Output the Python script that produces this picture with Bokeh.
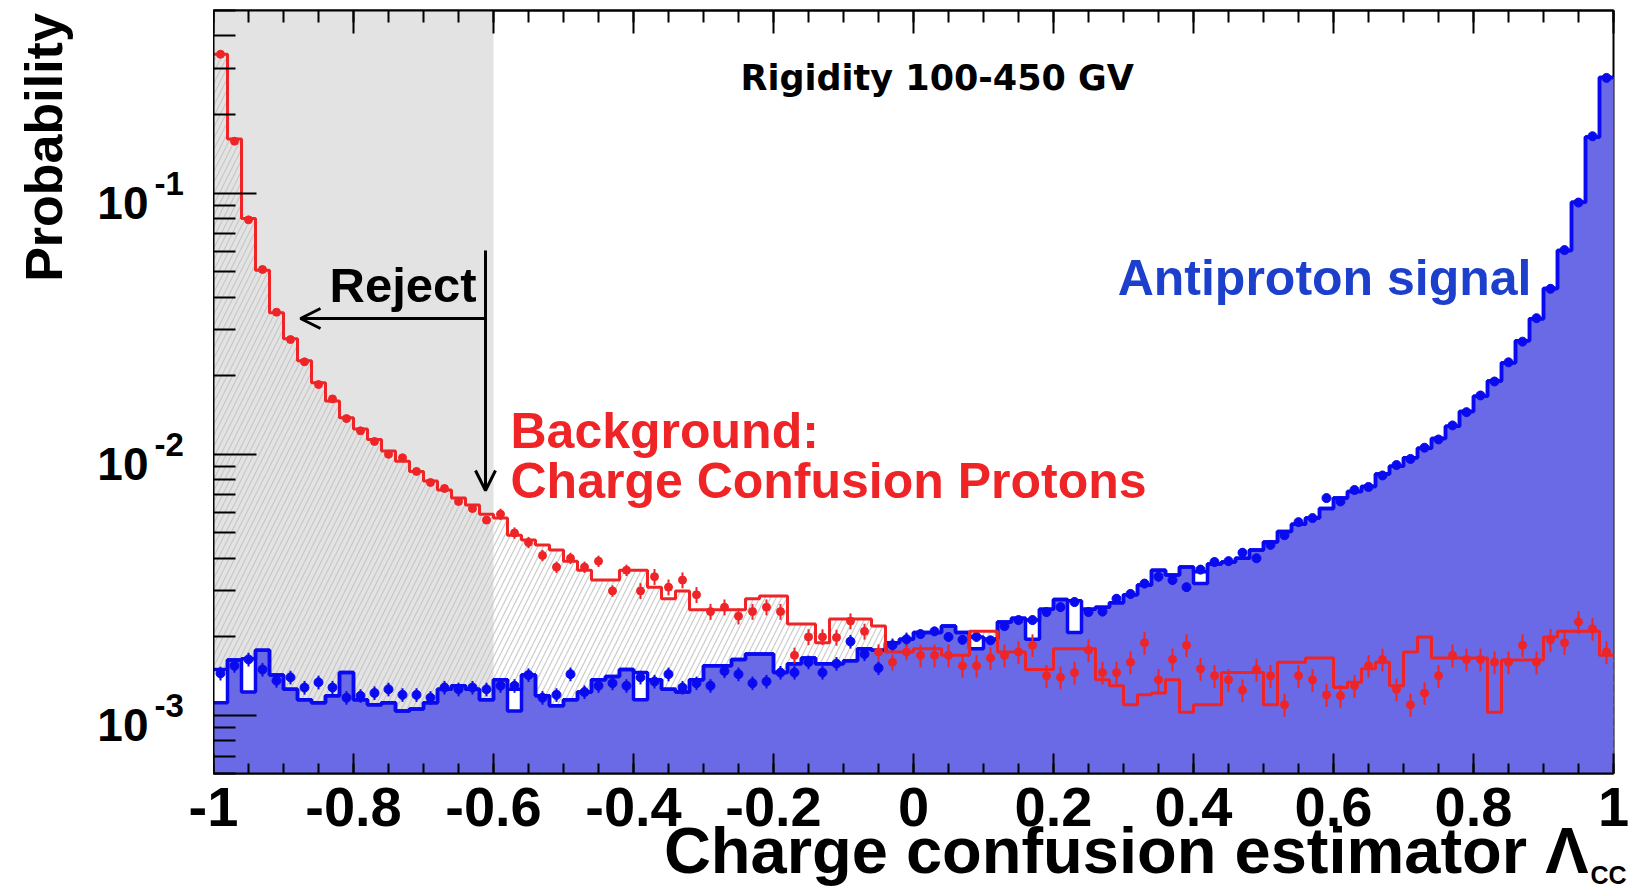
from math import pi
import numpy as np
from bokeh.plotting import figure
from bokeh.layouts import row, column
from bokeh.models import (Range1d, FixedTicker, CustomJSTickFormatter, LinearAxis,
                          Arrow, OpenHead, BoxAnnotation)
from bokeh.core.properties import value
from bokeh.embed import file_html
from bokeh.resources import INLINE

# ---------------- data (100 bins of width 0.02 over [-1, 1]) ----------------
x_lo, x_hi, n_bins = -1.0, 1.0, 100
y_lo, y_hi = 6e-4, 0.5

red_mc = [0.34, 0.161, 0.080, 0.0506, 0.0348, 0.0277, 0.0228, 0.0188, 0.0160, 0.0138,
          0.0125, 0.0114, 0.0103, 0.0094, 0.0086, 0.0079, 0.0073, 0.0068, 0.0064, 0.0059,
          0.0057, 0.0049, 0.0047, 0.0045, 0.0043, 0.0039, 0.0036, 0.0033, 0.0033, 0.0036,
          0.0036, 0.0031, 0.0028, 0.0030, 0.00254, 0.00254, 0.00254, 0.00254, 0.0028, 0.00287,
          0.00287, 0.00224, 0.00224, 0.0019, 0.00234, 0.00234, 0.00234, 0.0022, 0.00175, 0.00175,
          0.0018, 0.0018, 0.0017, 0.0017, 0.0021, 0.0021, 0.00175, 0.00175, 0.0015, 0.0015,
          0.0018, 0.0018, 0.0018, 0.00137, 0.0013, 0.0011, 0.0012, 0.00122, 0.00137, 0.00103,
          0.0011, 0.0011, 0.00146, 0.00146, 0.00146, 0.0011, 0.0016, 0.0016, 0.00166, 0.00166,
          0.00128, 0.00134, 0.00151, 0.0016, 0.0013, 0.00175, 0.0020, 0.00166, 0.00166, 0.00166,
          0.00166, 0.00103, 0.00163, 0.00163, 0.00163, 0.0020, 0.0021, 0.0021, 0.0021, 0.0017]

red_data = [0.34, 0.158, 0.079, 0.051, 0.035, 0.0275, 0.0226, 0.0185, 0.0163, 0.0137,
            0.0123, 0.0112, 0.0100, 0.0097, 0.0086, 0.0078, 0.0074, 0.0066, 0.0062, 0.0056,
            0.0059, 0.0050, 0.0046, 0.0041, 0.0037, 0.0040, 0.0037, 0.0039, 0.0030, 0.0036,
            0.0030, 0.0034, 0.0031, 0.0033, 0.0029, 0.0025, 0.0026, 0.0024, 0.0025, 0.0026,
            0.0025, 0.0017, 0.0020, 0.0020, 0.00199, 0.0023, 0.0021, 0.00175, 0.0016, 0.00175,
            0.0017, 0.0017, 0.0017, 0.00155, 0.00155, 0.00166, 0.0017, 0.00175, 0.00186, 0.00142,
            0.0014, 0.00146, 0.00178, 0.00146, 0.00146, 0.0016, 0.0019, 0.00137, 0.00164, 0.00186,
            0.00151, 0.00142, 0.00137, 0.00125, 0.0015, 0.00142, 0.0011, 0.00142, 0.00137, 0.0012,
            0.00119, 0.0013, 0.00155, 0.00164, 0.00126, 0.0011, 0.00122, 0.00142, 0.0017, 0.00164,
            0.00164, 0.0016, 0.0016, 0.00186, 0.0016, 0.00195, 0.0019, 0.00228, 0.00215, 0.00175]

# blue outline histogram (line, white underneath)
blue_line = [0.0015, 0.00163, 0.00165, 0.00178, 0.00143, 0.00126, 0.00115, 0.00112, 0.00119, 0.00146,
             0.00115, 0.0011, 0.00112, 0.00104, 0.00106, 0.00112, 0.00126, 0.0013, 0.00126, 0.00115,
             0.00137, 0.00126, 0.00143, 0.00119, 0.00109, 0.00115, 0.00123, 0.00137, 0.00141, 0.0015,
             0.00146, 0.00137, 0.00126, 0.00123, 0.00137, 0.00155, 0.00155, 0.00164, 0.00172, 0.00172,
             0.00146, 0.00158, 0.00166, 0.00158, 0.00158, 0.00162, 0.0018, 0.00178, 0.0019, 0.00196,
             0.00208, 0.00208, 0.0022, 0.00208, 0.0020, 0.00196, 0.00228, 0.00236, 0.00232, 0.00255,
             0.00278, 0.00275, 0.00255, 0.0026, 0.0027, 0.0029, 0.00316, 0.0036, 0.00345, 0.0037,
             0.00355, 0.0038, 0.00387, 0.0040, 0.0043, 0.00462, 0.00506, 0.0054, 0.0057, 0.0062,
             0.0068, 0.0072, 0.00753, 0.0084, 0.0090, 0.0097, 0.01054, 0.0115, 0.0128, 0.0146,
             0.0167, 0.0191, 0.0224, 0.0272, 0.033, 0.0431, 0.0603, 0.0923, 0.164, 0.277]

# blue filled histogram (pattern fill)
blue_fill = [0.00112, 0.00163, 0.00123, 0.00178, 0.00143, 0.00126, 0.00115, 0.00112, 0.00119, 0.00146,
             0.00115, 0.0011, 0.00112, 0.00104, 0.00106, 0.00112, 0.00126, 0.0013, 0.00126, 0.00115,
             0.00137, 0.00104, 0.00143, 0.00119, 0.00109, 0.00115, 0.00123, 0.00137, 0.00141, 0.0015,
             0.00115, 0.00137, 0.00126, 0.00123, 0.00137, 0.00155, 0.00155, 0.00164, 0.00172, 0.00172,
             0.00146, 0.00158, 0.00166, 0.00158, 0.00158, 0.00162, 0.0018, 0.00178, 0.0019, 0.00196,
             0.00208, 0.00208, 0.0022, 0.00208, 0.0018, 0.00196, 0.00228, 0.00236, 0.00196, 0.00255,
             0.00278, 0.00208, 0.00255, 0.0026, 0.0027, 0.0029, 0.00316, 0.0036, 0.00345, 0.0037,
             0.0032, 0.0038, 0.00387, 0.0040, 0.0043, 0.00462, 0.00506, 0.0054, 0.0057, 0.0062,
             0.0068, 0.0072, 0.00753, 0.0084, 0.0090, 0.0097, 0.01054, 0.0115, 0.0128, 0.0146,
             0.0167, 0.0191, 0.0224, 0.0272, 0.033, 0.0431, 0.0603, 0.0923, 0.164, 0.277]

blue_data = [0.00145, 0.00155, 0.00164, 0.0015, 0.00136, 0.0014, 0.00128, 0.00134, 0.00128, 0.00117,
             0.00119, 0.00122, 0.00126, 0.0012, 0.0012, 0.00117, 0.00128, 0.00126, 0.00128, 0.00126,
             0.0013, 0.0013, 0.00143, 0.00117, 0.0012, 0.00144, 0.00123, 0.0013, 0.00133, 0.0013,
             0.0014, 0.00135, 0.00144, 0.00128, 0.00133, 0.0013, 0.00148, 0.00144, 0.00133, 0.00135,
             0.00146, 0.00146, 0.0016, 0.00146, 0.00158, 0.00192, 0.00172, 0.00152, 0.00186, 0.00196,
             0.00205, 0.0021, 0.0020, 0.00195, 0.0020, 0.00194, 0.0022, 0.00232, 0.00232, 0.00249,
             0.0026, 0.00272, 0.00249, 0.0025, 0.0028, 0.00292, 0.0032, 0.0034, 0.0033, 0.0031,
             0.00362, 0.00387, 0.0039, 0.0042, 0.0040, 0.0045, 0.0049, 0.0055, 0.0057, 0.0068,
             0.0066, 0.0073, 0.0075, 0.0083, 0.0091, 0.0096, 0.0106, 0.0114, 0.0129, 0.0145,
             0.0168, 0.019, 0.0225, 0.027, 0.0332, 0.043, 0.0605, 0.092, 0.165, 0.276]

# relative error-bar half sizes
red_err_rel = [0.02] * 20 + [0.05] * 10 + [0.07] * 20 + [0.10] * 50
blue_err_rel = [0.06] * 50 + [0.04] * 25 + [0.02] * 25

x_major = [-1.0, -0.8, -0.6, -0.4, -0.2, 0.0, 0.2, 0.4, 0.6, 0.8, 1.0]
x_major_labels = ["-1", "-0.8", "-0.6", "-0.4", "-0.2", "0", "0.2", "0.4", "0.6", "0.8", "1"]
y_major = [1e-3, 1e-2, 1e-1]
y_major_sup = ["-3", "-2", "-1"]

cut_value = -0.6  # reject region edge
# ---------------------------------------------------------------------------

# pixel layout of the page
W, H = 1633, 893
FRAME_L, FRAME_R, FRAME_T, FRAME_B = 213, 1613, 10, 773
MAIN_H = FRAME_B + 2
BOT_H = H - MAIN_H
px_per_x = (FRAME_R - FRAME_L) / (x_hi - x_lo)
px_per_dec = (FRAME_B - FRAME_T) / (np.log10(y_hi) - np.log10(y_lo))
BL = 0.35  # baseline correction of svg text (fraction of font size)

edges = np.linspace(x_lo, x_hi, n_bins + 1)
centers = 0.5 * (edges[:-1] + edges[1:])


def ext(v):
    return list(v) + [v[-1]]


def y_shift(v, px):
    """data value moved px pixels downward on the log axis"""
    return v * 10 ** (-px / px_per_dec)


def to_x(px):
    return x_lo + (px - FRAME_L) / px_per_x


def to_y(py):
    return 10 ** (np.log10(y_hi) - (py - FRAME_T) / px_per_dec)


RED = "#ee2426"
BLUE = "#0a0af0"
BLUE_FILL = "#6a6ae6"
FONT = "Liberation Sans"
y_floor = 1e-5

yr = Range1d(y_lo, y_hi)

# ======================= main plot =======================
p = figure(width=W - FRAME_L, height=MAIN_H, x_range=Range1d(x_lo, x_hi), y_range=yr,
           y_axis_type="log", output_backend="svg", toolbar_location=None,
           min_border_left=0, min_border_right=W - FRAME_R, min_border_top=FRAME_T,
           min_border_bottom=MAIN_H - FRAME_B,
           background_fill_color="white", border_fill_color="white",
           outline_line_color="black", outline_line_width=2)
p.grid.visible = False

p.add_layout(BoxAnnotation(left=x_lo, right=cut_value, fill_color="#e3e3e3", fill_alpha=1.0,
                           line_color=None, level="underlay"))

ex = list(edges)
floor = [y_floor] * (n_bins + 1)

p.varea_step(x=ex, y1=floor, y2=ext(red_mc), step_mode="after", fill_color=None,
             hatch_pattern="/", hatch_color="#c2c2c2", hatch_alpha=0.85, hatch_scale=11,
             hatch_weight=1.2)

p.varea_step(x=ex, y1=floor, y2=ext(blue_line), step_mode="after", fill_color="white")
p.varea_step(x=ex, y1=floor, y2=ext(blue_fill), step_mode="after", fill_color=BLUE_FILL)
p.step(x=ex, y=ext(blue_fill), mode="after", line_color=BLUE, line_width=3.5)
p.step(x=ex, y=ext(blue_line), mode="after", line_color=BLUE, line_width=3.5)

bd = np.array(blue_data)
be = np.array(blue_err_rel)
p.segment(x0=centers, y0=bd * (1 - be), x1=centers, y1=bd * (1 + be), line_color=BLUE, line_width=2)
p.scatter(x=centers, y=bd, size=9, marker="circle", fill_color=BLUE, line_color=BLUE)

p.step(x=ex, y=ext(red_mc), mode="after", line_color=RED, line_width=3)
rd = np.array(red_data)
re = np.array(red_err_rel)
p.segment(x0=centers, y0=rd * (1 - re), x1=centers, y1=rd * (1 + re), line_color=RED, line_width=2)
p.scatter(x=centers, y=rd, size=8, marker="circle", fill_color=RED, line_color=RED)

# axes (ticks inside, labels drawn in the side panels)
x_minor = [round(x_lo + 0.05 * i, 2) for i in range(41)]
xt = FixedTicker(ticks=x_major, minor_ticks=x_minor)
p.xaxis.ticker = xt
p.xaxis.formatter = CustomJSTickFormatter(code="return '';")
p.xaxis.major_label_text_font_size = "0px"
p.xaxis.major_label_standoff = 0
p.xaxis.major_tick_in = 20
p.xaxis.major_tick_out = 0
p.xaxis.minor_tick_in = 10
p.xaxis.minor_tick_out = 0
p.xaxis.axis_line_width = 2
p.xaxis.major_tick_line_width = 2
p.xaxis.minor_tick_line_width = 2

top_axis = LinearAxis(ticker=xt, formatter=CustomJSTickFormatter(code="return '';"),
                      major_tick_in=23, major_tick_out=0, minor_tick_in=12, minor_tick_out=0,
                      axis_line_width=2, major_tick_line_width=2, minor_tick_line_width=2,
                      major_label_text_font_size="0px", major_label_standoff=0)
p.add_layout(top_axis, "above")

y_minor = [k * 10.0 ** e for e in (-4, -3, -2, -1) for k in range(2, 10)]
p.yaxis.ticker = FixedTicker(ticks=y_major, minor_ticks=y_minor)
p.yaxis.formatter = CustomJSTickFormatter(code="return '';")
p.yaxis.major_label_text_font_size = "0px"
p.yaxis.major_label_standoff = 0
p.yaxis.major_tick_in = 43
p.yaxis.major_tick_out = 0
p.yaxis.minor_tick_in = 22
p.yaxis.minor_tick_out = 0
p.yaxis.axis_line_width = 2
p.yaxis.major_tick_line_width = 2
p.yaxis.minor_tick_line_width = 2


def ptext(fig, px, py, txt, size, align, color="black", font=FONT, **kw):
    fig.text(x=[to_x(px)], y=[to_y(py - BL * size)], text=[txt], text_font=value(font),
             text_font_style="bold", text_font_size=f"{size}px", text_align=align,
             text_baseline="alphabetic", text_color=color, **kw)


# texts inside the frame (baseline pixel positions)
ptext(p, 740, 90, "Rigidity 100-450 GV", 35, "left", font="DejaVu Sans")
ptext(p, 1531, 295, "Antiproton signal", 50, "right", color="#1c3fcc")
ptext(p, 510, 448, "Background:", 50, "left", color=RED)
ptext(p, 510, 498, "Charge Confusion Protons", 50, "left", color=RED)
ptext(p, 329, 302, "Reject", 49, "left")

arrow_x = to_x(485)
p.add_layout(Arrow(x_start=arrow_x, y_start=to_y(250), x_end=arrow_x, y_end=to_y(490),
                   start=None, end=OpenHead(size=20, line_width=3, line_color="black"),
                   line_width=3, line_color="black"))
p.add_layout(Arrow(x_start=arrow_x, y_start=to_y(318), x_end=to_x(300), y_end=to_y(318),
                   start=None, end=OpenHead(size=20, line_width=3, line_color="black"),
                   line_width=3, line_color="black"))

# ======================= left panel: y labels =======================
lp = figure(width=FRAME_L, height=MAIN_H, x_range=Range1d(0, FRAME_L), y_range=yr,
            y_axis_type="log", output_backend="svg", toolbar_location=None,
            x_axis_location=None, y_axis_location=None,
            min_border_left=0, min_border_right=0, min_border_top=FRAME_T,
            min_border_bottom=MAIN_H - FRAME_B, outline_line_color=None,
            background_fill_color="white", border_fill_color="white")
lp.grid.visible = False
TEN, SUP = 46, 33
lp.text(x=[148] * 3, y=[y_shift(v, 26 - BL * TEN) for v in y_major], text=["10"] * 3,
        text_font=value(FONT), text_font_style="bold", text_font_size=f"{TEN}px",
        text_align="right", text_baseline="alphabetic", text_color="black")
lp.text(x=[154] * 3, y=[y_shift(v, 2 - BL * SUP) for v in y_major], text=y_major_sup,
        text_font=value(FONT), text_font_style="bold", text_font_size=f"{SUP}px",
        text_align="left", text_baseline="alphabetic", text_color="black")
lp.text(x=[62 - BL * 52], y=[to_y(147)], text=["Probability"], angle=pi / 2,
        text_font=value(FONT), text_font_style="bold", text_font_size="52px",
        text_align="center", text_baseline="alphabetic", text_color="black")

# ======================= bottom panel: x labels =======================
bp = figure(width=W, height=BOT_H,
            x_range=Range1d(x_lo - FRAME_L / px_per_x, x_hi + (W - FRAME_R) / px_per_x),
            y_range=Range1d(0, BOT_H), output_backend="svg", toolbar_location=None,
            x_axis_location=None, y_axis_location=None,
            min_border_left=0, min_border_right=0, min_border_top=0, min_border_bottom=0,
            outline_line_color=None, background_fill_color="white", border_fill_color="white")
bp.grid.visible = False
TICK, TITLE, SUB = 56, 65, 25
bp.text(x=x_major, y=[H - (826 - BL * TICK)] * len(x_major), text=x_major_labels,
        text_font=value(FONT), text_font_style="bold", text_font_size=f"{TICK}px",
        text_align="center", text_baseline="alphabetic", text_color="black")
bp.text(x=[to_x(1588)], y=[H - (873 - BL * TITLE)], text=["Charge confusion estimator \u039b"],
        text_font=value(FONT), text_font_style="bold", text_font_size=f"{TITLE}px",
        text_align="right", text_baseline="alphabetic", text_color="black")
bp.text(x=[to_x(1590)], y=[H - (883 - BL * SUB)], text=["CC"],
        text_font=value(FONT), text_font_style="bold", text_font_size=f"{SUB}px",
        text_align="left", text_baseline="alphabetic", text_color="black")

layout = column(row(lp, p, spacing=0), bp, spacing=0)
open("out.html", "w").write(file_html(layout, INLINE))
